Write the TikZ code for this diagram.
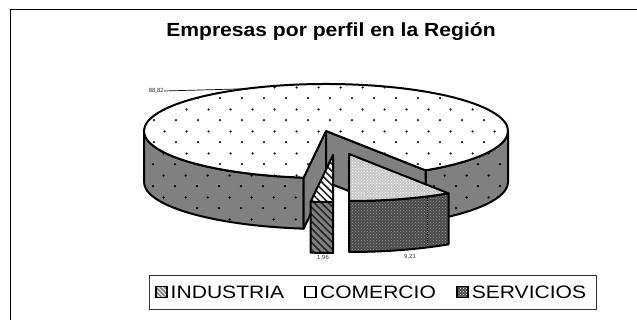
\documentclass[tikz,border=0pt]{standalone}
\usepackage{fontspec}
\setmainfont{Liberation Sans}
\usepackage{tikz}
\usetikzlibrary{calc,positioning,patterns,patterns.meta}
\definecolor{wall}{HTML}{808080}
\definecolor{darkwall}{HTML}{4A4A4A}
\definecolor{lighttop}{HTML}{C8C8C8}
\tikzdeclarepattern{
  name=sparsedots, type=uncolored,
  bounding box={(0pt,0pt) and (21.6pt,22pt)},
  tile size={(21.6pt,22pt)},
  code={\fill (2pt,2pt) circle (1.3pt); \fill (12.8pt,13pt) circle (1.3pt);}
}
\def\pierx{182pt}
\def\piery{47pt}
\def\piedepth{51pt}
\tikzset{
  frame/.style={draw=black, line width=1pt},
  outline/.style={draw=black, line width=2pt, line join=round},
  cometop/.style={outline, preaction={fill=white}, pattern=sparsedots, pattern color=black!90},
  comwall/.style={outline, preaction={fill=wall}, pattern=sparsedots, pattern color=black},
  cutface/.style={outline, fill=wall},
  indtop/.style={outline, preaction={fill=white}, pattern={Lines[angle=-45,distance=5pt,line width=1.6pt]}, pattern color=black!85},
  indwall/.style={outline, preaction={fill=wall}, pattern={Lines[angle=-45,distance=5pt,line width=1.6pt]}, pattern color=black!85},
  sertop/.style={outline, preaction={fill=lighttop}, pattern=crosshatch dots, pattern color=white},
  serwall/.style={outline, preaction={fill=darkwall}, pattern=crosshatch dots, pattern color=gray!80},
  sergrid/.style={draw=black, line width=0.5pt, dash pattern=on 1pt off 1pt},
  leader/.style={draw=black, line width=0.7pt},
  vallab/.style={font=\fontsize{6}{7}\selectfont, text=black!80, inner sep=0pt},
  charttitle/.style={font=\bfseries\fontsize{19}{22}\selectfont, xscale=1.11, inner sep=0pt, anchor=base},
  legbox/.style={draw=black!80, line width=0.8pt, minimum width=447pt, minimum height=34pt, inner sep=0pt},
  legsym/.style={draw=black, line width=1.4pt, minimum size=11pt, inner sep=0pt},
  indsym/.style={legsym, preaction={fill=wall}, pattern={Lines[angle=-45,distance=3pt,line width=1pt]}, pattern color=white},
  comsym/.style={legsym, fill=white},
  sersym/.style={legsym, preaction={fill=darkwall}, pattern=crosshatch dots, pattern color=white},
  legtext/.style={font=\fontsize{18}{20}\selectfont, xscale=1.17, inner sep=0pt},
}
\begin{document}
\begin{tikzpicture}[x=1pt,y=1pt]
  \useasboundingbox (0,0) rectangle (637,320);
  \draw[frame] (10,-5) -- (10,310) -- (642,310);

  \node[charttitle] (title) at (331,283) {Empresas por perfil en la Región};

  \coordinate (C) at (326,189);
  \coordinate (CI) at (333,165);
  \coordinate (CS) at (349,166);

  % comercio: front walls, cut faces, then top
  \draw[comwall] ($(C)+(180:{\pierx} and {\piery})$) arc[start angle=180, end angle=262.94, x radius=\pierx, y radius=\piery]
    -- ++(0,-\piedepth) arc[start angle=262.94, end angle=180, x radius=\pierx, y radius=\piery] -- cycle;
  \draw[comwall] ($(C)+(-56.84:{\pierx} and {\piery})$) arc[start angle=-56.84, end angle=0, x radius=\pierx, y radius=\piery]
    -- ++(0,-\piedepth) arc[start angle=0, end angle=-56.84, x radius=\pierx, y radius=\piery] -- cycle;
  \draw[cutface] (C) -- ($(C)+(262.94:{\pierx} and {\piery})$) -- ++(0,-\piedepth) -- ($(C)+(0,-\piedepth)$) -- cycle;
  \draw[cutface] (C) -- ($(C)+(-56.84:{\pierx} and {\piery})$) -- ++(0,-\piedepth) -- ($(C)+(0,-\piedepth)$) -- cycle;
  \draw[cometop] (C) -- ($(C)+(-56.84:{\pierx} and {\piery})$)
    arc[start angle=-56.84, end angle=262.94, x radius=\pierx, y radius=\piery] -- cycle;

  % industria
  \draw[indwall] ($(CI)+(262.94:{\pierx} and {\piery})$) arc[start angle=262.94, end angle=270, x radius=\pierx, y radius=\piery]
    -- ++(0,-\piedepth) arc[start angle=270, end angle=262.94, x radius=\pierx, y radius=\piery] -- cycle;
  \draw[indtop] (CI) -- ($(CI)+(262.94:{\pierx} and {\piery})$)
    arc[start angle=262.94, end angle=270, x radius=\pierx, y radius=\piery] -- cycle;

  % servicios
  \draw[serwall] ($(CS)+(270:{\pierx} and {\piery})$) arc[start angle=270, end angle=303.16, x radius=\pierx, y radius=\piery]
    -- ++(0,-\piedepth) arc[start angle=303.16, end angle=270, x radius=\pierx, y radius=\piery] -- cycle;
  \draw[sergrid] ($(CS)+(295.4:{\pierx} and {\piery})$) -- ++(0,-\piedepth);
  \draw[sertop] (CS) -- ($(CS)+(270:{\pierx} and {\piery})$)
    arc[start angle=270, end angle=303.16, x radius=\pierx, y radius=\piery] -- cycle;

  % value labels
  \node[vallab, anchor=east] (lblcom) at (164,229) {88,82};
  \coordinate (comtip) at ($(C)+(116:{\pierx} and {\piery})$);
  \draw[leader] (lblcom.east) -- (comtip);
  \node[vallab] (lblind) at (323,62) {1,96};
  \node[vallab] (lblser) at (410,63) {9,21};

  % legend
  \node[legbox] (legend) at (372.5,28) {};
  \node[indsym] (symind) at (161.5,28) {};
  \node[legtext, right=3pt of symind] (txtind) {INDUSTRIA};
  \node[comsym, right=20pt of txtind] (symcom) {};
  \node[legtext, right=3pt of symcom] (txtcom) {COMERCIO};
  \node[sersym, right=20pt of txtcom] (symser) {};
  \node[legtext, right=3pt of symser] (txtser) {SERVICIOS};
\end{tikzpicture}
\end{document}
